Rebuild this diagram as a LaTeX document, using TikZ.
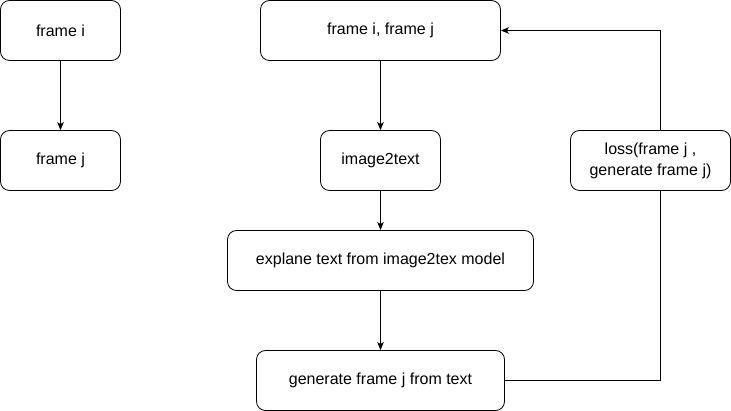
\documentclass[tikz,border=0pt]{standalone}
\usepackage{fontspec}
\setmainfont{Liberation Sans}
\usetikzlibrary{arrows.meta}

\tikzset{
  box/.style={draw, rounded corners=9pt, line width=0.8pt, inner sep=0pt,
    minimum height=60pt, align=center, font=\fontsize{16}{21}\selectfont},
  link/.style={line width=0.8pt, -{Stealth[length=8pt,width=6.5pt,inset=2pt]}},
  plain/.style={line width=0.8pt}
}

\begin{document}
\begin{tikzpicture}[x=1pt, y=-1pt]
\useasboundingbox (0,0) rectangle (731,411);
% left pair
\node[box, minimum width=120pt] (fi) at (60.5,30.5) {frame i};
\node[box, minimum width=120pt] (fj) at (60.5,160.5) {frame j};
% main column
\node[box, minimum width=240pt] (fij) at (380.5,30.5) {frame i, frame j};
\node[box, minimum width=120pt] (itt) at (380.5,160.5) {image2text};
\node[box, minimum width=306pt] (expl) at (380.5,260.5) {explane text from image2tex model};
\node[box, minimum width=248pt] (gen) at (380.5,380.5) {generate frame j from text};
% loss
\node[box, minimum width=160pt] (loss) at (650.5,160.5) {loss(frame j ,\\ generate frame j)};

\draw[link] (fi) -- (fj);
\draw[link] (fij) -- (itt);
\draw[link] (itt) -- (expl);
\draw[link] (expl) -- (gen);
\draw[plain] (gen.east) -| ([xshift=10pt]loss.south);
\draw[link] ([xshift=10pt]loss.north) |- (fij.east);
\end{tikzpicture}
\end{document}
